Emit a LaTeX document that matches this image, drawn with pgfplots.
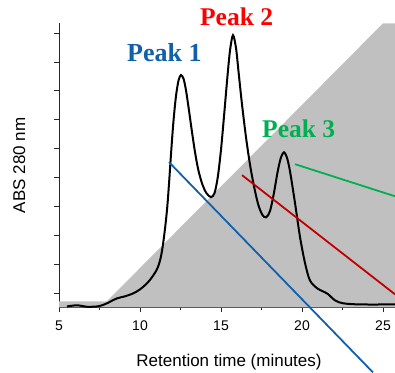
\documentclass[border=0pt]{standalone}
\usepackage{fontspec}
\setmainfont{Liberation Sans}
\newfontfamily\peakfont{Liberation Serif}
\usepackage{pgfplots}
\pgfplotsset{compat=1.18}
\definecolor{grayC}{RGB}{192,192,192}
\definecolor{blueP}{RGB}{16,96,170}
\definecolor{redT}{RGB}{255,0,0}
\definecolor{redL}{RGB}{192,0,0}
\definecolor{greenP}{RGB}{0,176,80}
\begin{document}
\begin{tikzpicture}
\begin{axis}[
  scale only axis,
  width=336pt, height=284pt,
  xmin=5, xmax=25.74, ymin=0, ymax=9.82,
  axis x line*=bottom, axis y line*=left,
  axis line style={black!85, line width=0.9pt},
  clip=false,
  xtick={5,10,15,20,25},
  minor xtick={7.5,12.5,17.5,22.5},
  ytick={0.485,1.485,2.485,3.485,4.485,5.485,6.485,7.485,8.485,9.485},
  yticklabels={},
  tick align=outside,
  major tick length=5pt, minor tick length=3pt,
  every tick/.style={black!85, line width=0.8pt},
  tick label style={font=\fontsize{14}{16}\selectfont},
  xticklabel style={yshift=-5pt},
  /pgf/number format/assume math mode=true,
  xlabel={Retention time (minutes)},
  ylabel={ABS 280 nm},
  label style={font=\fontsize{17}{19}\selectfont},
  xlabel style={at={(axis description cs:0.506,-0.208)}, anchor=base},
  ylabel style={at={(axis description cs:-0.101,0.5)}, anchor=base},
]
\addplot[fill=grayC, draw=none] coordinates {(5,0) (5,0.21) (7.96,0.21) (25.0,9.82) (25.74,9.82) (25.74,0)} -- cycle;
\addplot[black, line width=2pt, smooth, tension=0.5] coordinates {
(5.49,0.03) (6.11,0.07) (6.73,0.02) (7.35,0.03) (7.65,0.07) (7.96,0.14)
(8.58,0.31) (9.07,0.38) (9.57,0.48) (10.00,0.62) (10.43,0.83) (10.74,1.04)
(11.05,1.32) (11.25,1.65) (11.40,2.10) (11.55,2.75) (11.68,3.45) (11.80,4.35)
(11.92,5.35) (12.06,6.40) (12.22,7.30) (12.38,7.85) (12.53,8.03) (12.69,7.90)
(12.84,7.50) (13.00,6.90) (13.20,6.10) (13.40,5.35) (13.60,4.75) (13.85,4.25)
(14.10,3.95) (14.38,3.81) (14.60,3.95) (14.80,4.50) (15.00,5.45) (15.20,6.70)
(15.40,8.00) (15.56,8.90) (15.74,9.41) (15.93,8.95) (16.10,8.05) (16.30,7.00)
(16.55,5.85) (16.80,4.90) (17.05,4.15) (17.30,3.55) (17.55,3.20) (17.78,3.11)
(18.02,3.32) (18.25,3.90) (18.50,4.70) (18.70,5.18) (18.89,5.36) (19.07,5.18)
(19.26,4.70) (19.57,3.60) (19.88,2.42) (20.19,1.52) (20.49,0.93) (20.93,0.66)
(21.30,0.55) (21.60,0.46) (22.04,0.24) (22.53,0.14) (23.58,0.10) (25.74,0.10)
};
\addplot[blueP, line width=1.8pt] coordinates {(11.79,5.02) (24.38,-2.25)};
\addplot[redL, line width=1.8pt] coordinates {(16.30,4.57) (25.74,0.45)};
\addplot[greenP, line width=1.8pt] coordinates {(19.57,4.95) (25.74,3.84)};
\node[anchor=base west, inner sep=0, text=blueP, font=\peakfont\bfseries\fontsize{26}{28}\selectfont] at (axis cs:9.20,8.51) {Peak 1};
\node[anchor=base west, inner sep=0, text=redT, font=\peakfont\bfseries\fontsize{25.5}{28}\selectfont] at (axis cs:13.70,9.73) {Peak 2};
\node[anchor=base west, inner sep=0, text=greenP, font=\peakfont\bfseries\fontsize{25.5}{28}\selectfont] at (axis cs:17.53,5.88) {Peak 3};
\coordinate (bl) at (axis cs:1.358,-2.25);
\coordinate (tr) at (axis cs:25.74,10.627);
\end{axis}
\pgfresetboundingbox
\path (bl) rectangle (tr);
\end{tikzpicture}
\end{document}
